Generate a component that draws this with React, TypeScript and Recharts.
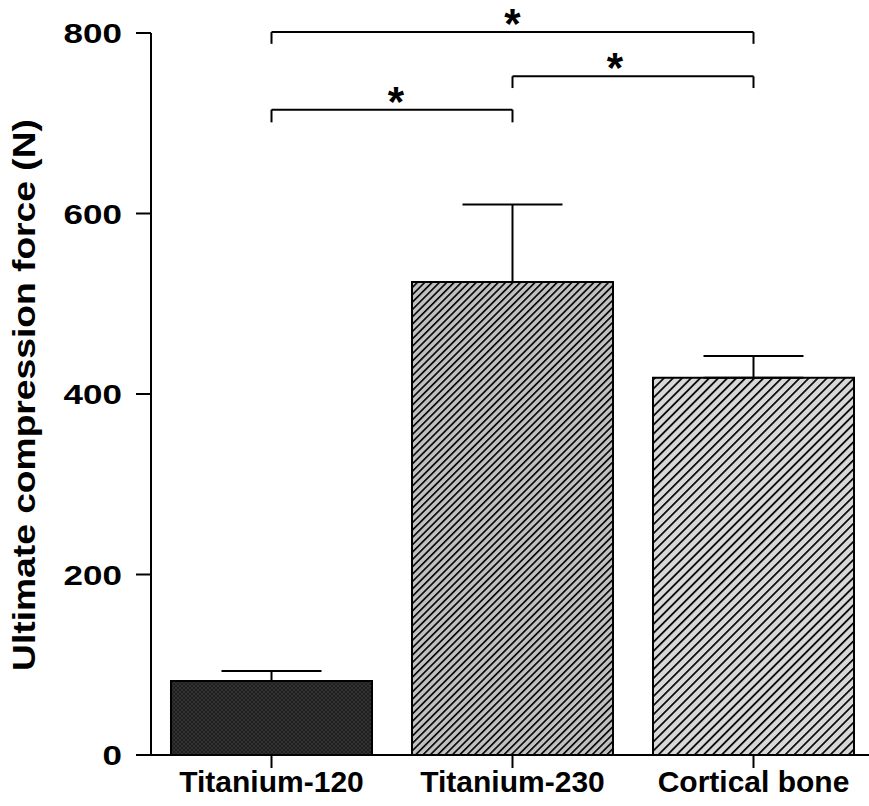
import React from 'react';
import { BarChart, Bar, XAxis, YAxis, ErrorBar, ReferenceLine, Cell } from 'recharts';

const groups = ['Titanium-120', 'Titanium-230', 'Cortical bone'];
const meanForce = [82, 524, 418];
const sdForce = [11, 86, 24];
const yTicks = [0, 200, 400, 600, 800];
const barFills = ['url(#hatchDark)', 'url(#hatchMid)', 'url(#hatchLight)'];

// significance brackets: span, height in N, tip length in N, asterisk nudge
const brackets = [
  { from: 'Titanium-120', to: 'Cortical bone', y: 801, drop: 13, dx: 0 },
  { from: 'Titanium-230', to: 'Cortical bone', y: 752, drop: 13, dx: -18 },
  { from: 'Titanium-120', to: 'Titanium-230', y: 715, drop: 14, dx: 4 },
];

const rows = groups.map((g, i) => ({ group: g, force: meanForce[i], err: [0, sdForce[i]] }));

const FONT = '"Liberation Sans", Arial, sans-serif';

const YTick = (props: any) => {
  const { x, y, payload } = props;
  return (
    <text
      transform={`translate(${x},${y}) scale(1.25,1)`}
      textAnchor="end"
      dy="0.36em"
      fontSize={28}
      fontWeight="bold"
      fontFamily={FONT}
      fill="#000"
    >
      {payload.value}
    </text>
  );
};

const XTick = (props: any) => {
  const { x, y, payload } = props;
  return (
    <text x={x} y={y} dy={22} textAnchor="middle" fontSize={30} fontWeight="bold" fontFamily={FONT} fill="#000">
      {payload.value}
    </text>
  );
};

const YLabel = () => (
  <text
    transform="translate(35,395) rotate(-90) scale(1.2,1)"
    textAnchor="middle"
    fontSize={31}
    fontWeight="bold"
    fontFamily={FONT}
    fill="#000"
  >
    Ultimate compression force (N)
  </text>
);

export default function App() {
  return (
    <div style={{ position: 'fixed', left: 0, top: 0, width: 869, height: 806, overflow: 'hidden', background: '#fff' }}>
      <BarChart width={874} height={806} data={rows} margin={{ top: 33, right: 0, left: 0, bottom: 0 }}>
        <defs>
          <pattern id="hatchDark" patternUnits="userSpaceOnUse" width={4} height={4}>
            <rect width={4} height={4} fill="#1f1f1f" />
            <path d="M0,4 L4,0 M0,0 L4,4" stroke="#3a3a3a" strokeWidth={0.7} />
          </pattern>
          <pattern id="hatchMid" patternUnits="userSpaceOnUse" width={5.2} height={5.2} patternTransform="rotate(45)">
            <rect width={5.2} height={5.2} fill="#c0c0c0" />
            <rect width={1.6} height={5.2} fill="#000" />
          </pattern>
          <pattern id="hatchLight" patternUnits="userSpaceOnUse" width={6.4} height={6.4} patternTransform="rotate(45)">
            <rect width={6.4} height={6.4} fill="#d8d8d8" />
            <rect width={1.7} height={6.4} fill="#000" />
          </pattern>
        </defs>
        <XAxis
          dataKey="group"
          height={51}
          tick={<XTick />}
          tickSize={13}
          tickLine={{ stroke: '#000', strokeWidth: 2 }}
          axisLine={{ stroke: '#000', strokeWidth: 2 }}
          interval={0}
        />
        <YAxis
          width={151}
          domain={[0, 800]}
          ticks={yTicks}
          tick={<YTick />}
          tickSize={15}
          tickMargin={14}
          tickLine={{ stroke: '#000', strokeWidth: 2 }}
          axisLine={{ stroke: '#000', strokeWidth: 2 }}
          label={{ content: () => <YLabel /> }}
        />
        <Bar dataKey="force" barSize={201} stroke="#000" strokeWidth={2} isAnimationActive={false}>
          {rows.map((r, i) => (
            <Cell key={r.group} fill={barFills[i]} />
          ))}
          <ErrorBar dataKey="err" width={50} stroke="#000" strokeWidth={2} direction="y" />
        </Bar>
        {brackets.map((b, i) => (
          <ReferenceLine
            key={`h${i}`}
            segment={[{ x: b.from, y: b.y }, { x: b.to, y: b.y }]}
            stroke="#000"
            strokeWidth={2}
            ifOverflow="visible"
            label={{ value: '*', position: 'top', offset: -6, dx: b.dx, fontSize: 42, fontWeight: 'bold', fill: '#000', fontFamily: FONT }}
          />
        ))}
        {brackets.map((b, i) => (
          <ReferenceLine
            key={`l${i}`}
            segment={[{ x: b.from, y: b.y }, { x: b.from, y: b.y - b.drop }]}
            stroke="#000"
            strokeWidth={2}
            ifOverflow="visible"
          />
        ))}
        {brackets.map((b, i) => (
          <ReferenceLine
            key={`r${i}`}
            segment={[{ x: b.to, y: b.y }, { x: b.to, y: b.y - b.drop }]}
            stroke="#000"
            strokeWidth={2}
            ifOverflow="visible"
          />
        ))}
      </BarChart>
    </div>
  );
}
